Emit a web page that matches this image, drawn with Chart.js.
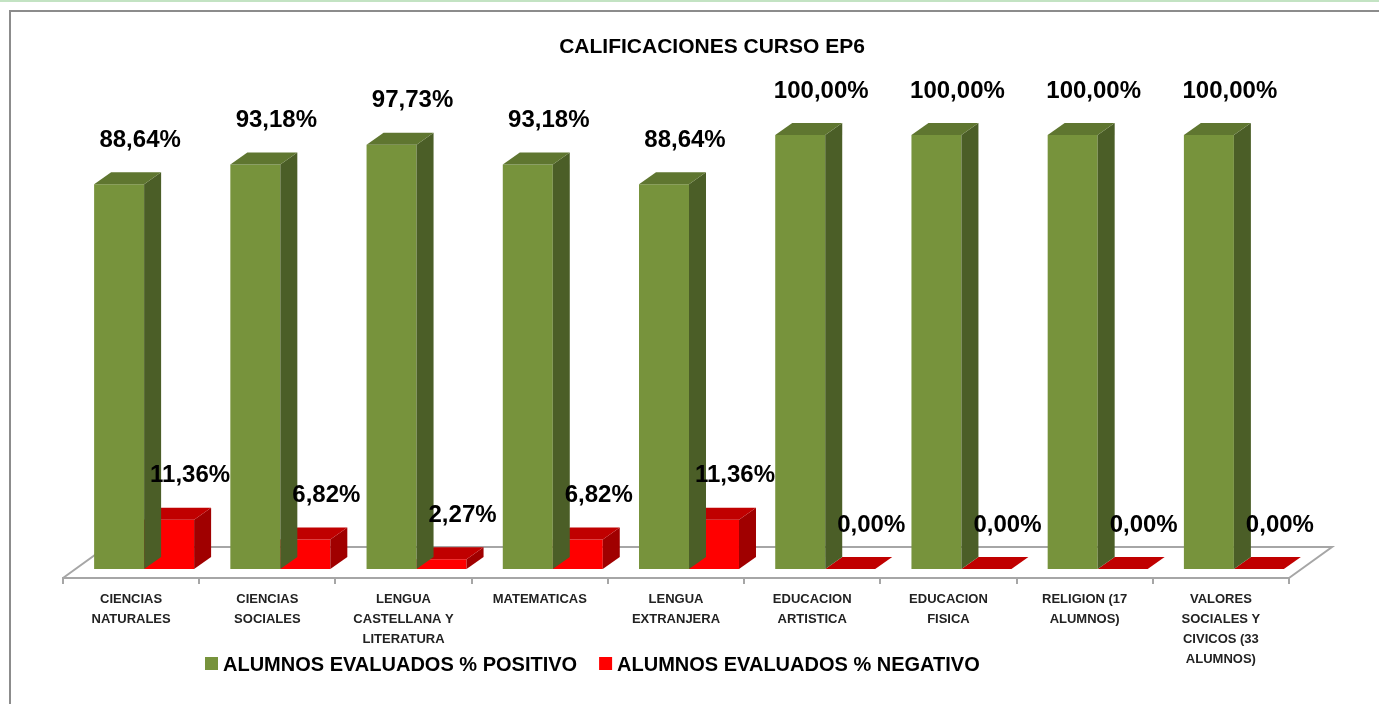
<!DOCTYPE html>
<html>
<head>
<meta charset="utf-8">
<script src="https://cdn.jsdelivr.net/npm/chart.js@4.4.0/dist/chart.umd.min.js"></script>
<style>
  html, body { margin: 0; padding: 0; background: #fff; }
  #wrap { position: relative; width: 1379px; height: 704px; }
</style>
</head>
<body>
<div id="wrap"><canvas id="grafico" width="1379" height="704"></canvas></div>
<script>
// --- DATOS ---
const categorias = [
    ['CIENCIAS', 'NATURALES'],
    ['CIENCIAS', 'SOCIALES'],
    ['LENGUA', 'CASTELLANA Y', 'LITERATURA'],
    ['MATEMATICAS'],
    ['LENGUA', 'EXTRANJERA'],
    ['EDUCACION', 'ARTISTICA'],
    ['EDUCACION', 'FISICA'],
    ['RELIGION (17', 'ALUMNOS)'],
    ['VALORES', 'SOCIALES Y', 'CIVICOS (33', 'ALUMNOS)']
];
const positivo = [88.64, 93.18, 97.73, 93.18, 88.64, 100, 100, 100, 100];
const negativo = [11.36, 6.82, 2.27, 6.82, 11.36, 0, 0, 0, 0];
const nombresSeries = ['ALUMNOS EVALUADOS % POSITIVO', 'ALUMNOS EVALUADOS % NEGATIVO'];
const titulo = 'CALIFICACIONES CURSO EP6';

// colores de las caras: frontal, superior, lateral
const caras = [
    { frente: '#77933c', arriba: '#5f7630', lado: '#4b5e27' },
    { frente: '#ff0000', arriba: '#c00000', lado: '#a00000' }
];

// --- PERSPECTIVA 3D ---
const fondoBarra = { dx: 13, dy: -9 };   // las barras están metidas en el suelo
const prof = { dx: 17, dy: -12 };        // profundidad de cada barra
const suelo = { dx: 43, dy: -31 };       // profundidad del suelo
const gris = '#a6a6a6';
const fuente = 'Liberation Sans, Arial, sans-serif';

const formatea = (v) => v.toFixed(2).replace('.', ',') + '%';

const poligono = (ctx, pts, color) => {
    ctx.beginPath();
    ctx.moveTo(pts[0][0], pts[0][1]);
    for (let i = 1; i < pts.length; i++) ctx.lineTo(pts[i][0], pts[i][1]);
    ctx.closePath();
    ctx.fillStyle = color;
    ctx.fill();
};

const cubos3d = {
    id: 'cubos3d',
    beforeDraw(chart) {
        const ctx = chart.ctx;
        ctx.save();
        // linea verde de arriba y marco gris
        ctx.fillStyle = '#c3e3c3';
        ctx.fillRect(0, 0, chart.width, 2);
        ctx.strokeStyle = '#8c8c8c';
        ctx.lineWidth = 2;
        ctx.beginPath();
        ctx.moveTo(10, chart.height + 5);
        ctx.lineTo(10, 11);
        ctx.lineTo(chart.width + 5, 11);
        ctx.stroke();
        ctx.restore();
    },
    beforeDatasetsDraw(chart) {
        const ctx = chart.ctx;
        const a = chart.chartArea;
        // suelo: bordes laterales y fondo
        ctx.save();
        ctx.strokeStyle = gris;
        ctx.lineWidth = 2;
        ctx.beginPath();
        ctx.moveTo(a.left, a.bottom);
        ctx.lineTo(a.left + suelo.dx, a.bottom + suelo.dy);
        ctx.lineTo(a.right + suelo.dx, a.bottom + suelo.dy);
        ctx.lineTo(a.right, a.bottom);
        ctx.stroke();
        ctx.restore();
        ctx.save();
        ctx.translate(fondoBarra.dx, fondoBarra.dy);
    },
    afterDatasetDraw(chart, args) {
        const ctx = chart.ctx;
        const c = caras[args.index];
        chart.getDatasetMeta(args.index).data.forEach((bar) => {
            const { x, y, base, width } = bar.getProps(['x', 'y', 'base', 'width'], true);
            const l = x - width / 2, r = x + width / 2;
            poligono(ctx, [[r, y], [r + prof.dx, y + prof.dy], [r + prof.dx, base + prof.dy], [r, base]], c.lado);
            poligono(ctx, [[l, y], [l + prof.dx, y + prof.dy], [r + prof.dx, y + prof.dy], [r, y]], c.arriba);
        });
    },
    afterDatasetsDraw(chart) {
        const ctx = chart.ctx;
        ctx.restore();
        // etiquetas de valores
        ctx.save();
        ctx.font = 'bold 24px ' + fuente;
        ctx.fillStyle = '#000';
        ctx.textAlign = 'center';
        ctx.textBaseline = 'middle';
        chart.data.datasets.forEach((ds, i) => {
            chart.getDatasetMeta(i).data.forEach((bar, j) => {
                const { x, y } = bar.getProps(['x', 'y'], true);
                ctx.fillText(formatea(ds.data[j]), x + fondoBarra.dx + 21, y + fondoBarra.dy - 44);
            });
        });
        ctx.restore();
    },
    afterDraw(chart) {
        const ctx = chart.ctx;
        ctx.save();
        // titulo
        ctx.font = 'bold 21px ' + fuente;
        ctx.fillStyle = '#000';
        ctx.textAlign = 'center';
        ctx.textBaseline = 'middle';
        ctx.fillText(titulo, 712, 47);
        // leyenda
        ctx.font = 'bold 20px ' + fuente;
        ctx.textAlign = 'left';
        let lx = 205;
        const ly = 664;
        chart.data.datasets.forEach((ds) => {
            ctx.fillStyle = ds.backgroundColor;
            ctx.fillRect(lx, ly - 7, 13, 13);
            ctx.fillStyle = '#000';
            ctx.fillText(ds.label, lx + 18, ly + 1);
            lx += 18 + ctx.measureText(ds.label).width + 22;
        });
        ctx.restore();
    }
};

const ctx = document.getElementById('grafico').getContext('2d');
new Chart(ctx, {
    type: 'bar',
    data: {
        labels: categorias,
        datasets: [
            { label: nombresSeries[0], data: positivo, backgroundColor: caras[0].frente },
            { label: nombresSeries[1], data: negativo, backgroundColor: caras[1].frente }
        ]
    },
    options: {
        responsive: false,
        animation: false,
        devicePixelRatio: 1,
        layout: { padding: { left: 63, right: 90, top: 144, bottom: 0 } },
        datasets: { bar: { categoryPercentage: 0.734, barPercentage: 1, borderWidth: 0 } },
        plugins: {
            legend: { display: false },
            title: { display: false },
            tooltip: { enabled: false }
        },
        scales: {
            x: {
                grid: {
                    display: true, drawOnChartArea: false, drawTicks: true,
                    tickLength: 6, color: gris, lineWidth: 2, offset: true
                },
                border: { display: true, color: gris, width: 2 },
                ticks: {
                    color: '#222', padding: 5, maxRotation: 0, autoSkip: false,
                    font: { family: fuente, weight: 'bold', size: 13, lineHeight: 1.54 }
                },
                afterFit: (scale) => { scale.height = 126; }
            },
            y: { display: false, min: 0, max: 100 }
        }
    },
    plugins: [cubos3d]
});
</script>
</body>
</html>
